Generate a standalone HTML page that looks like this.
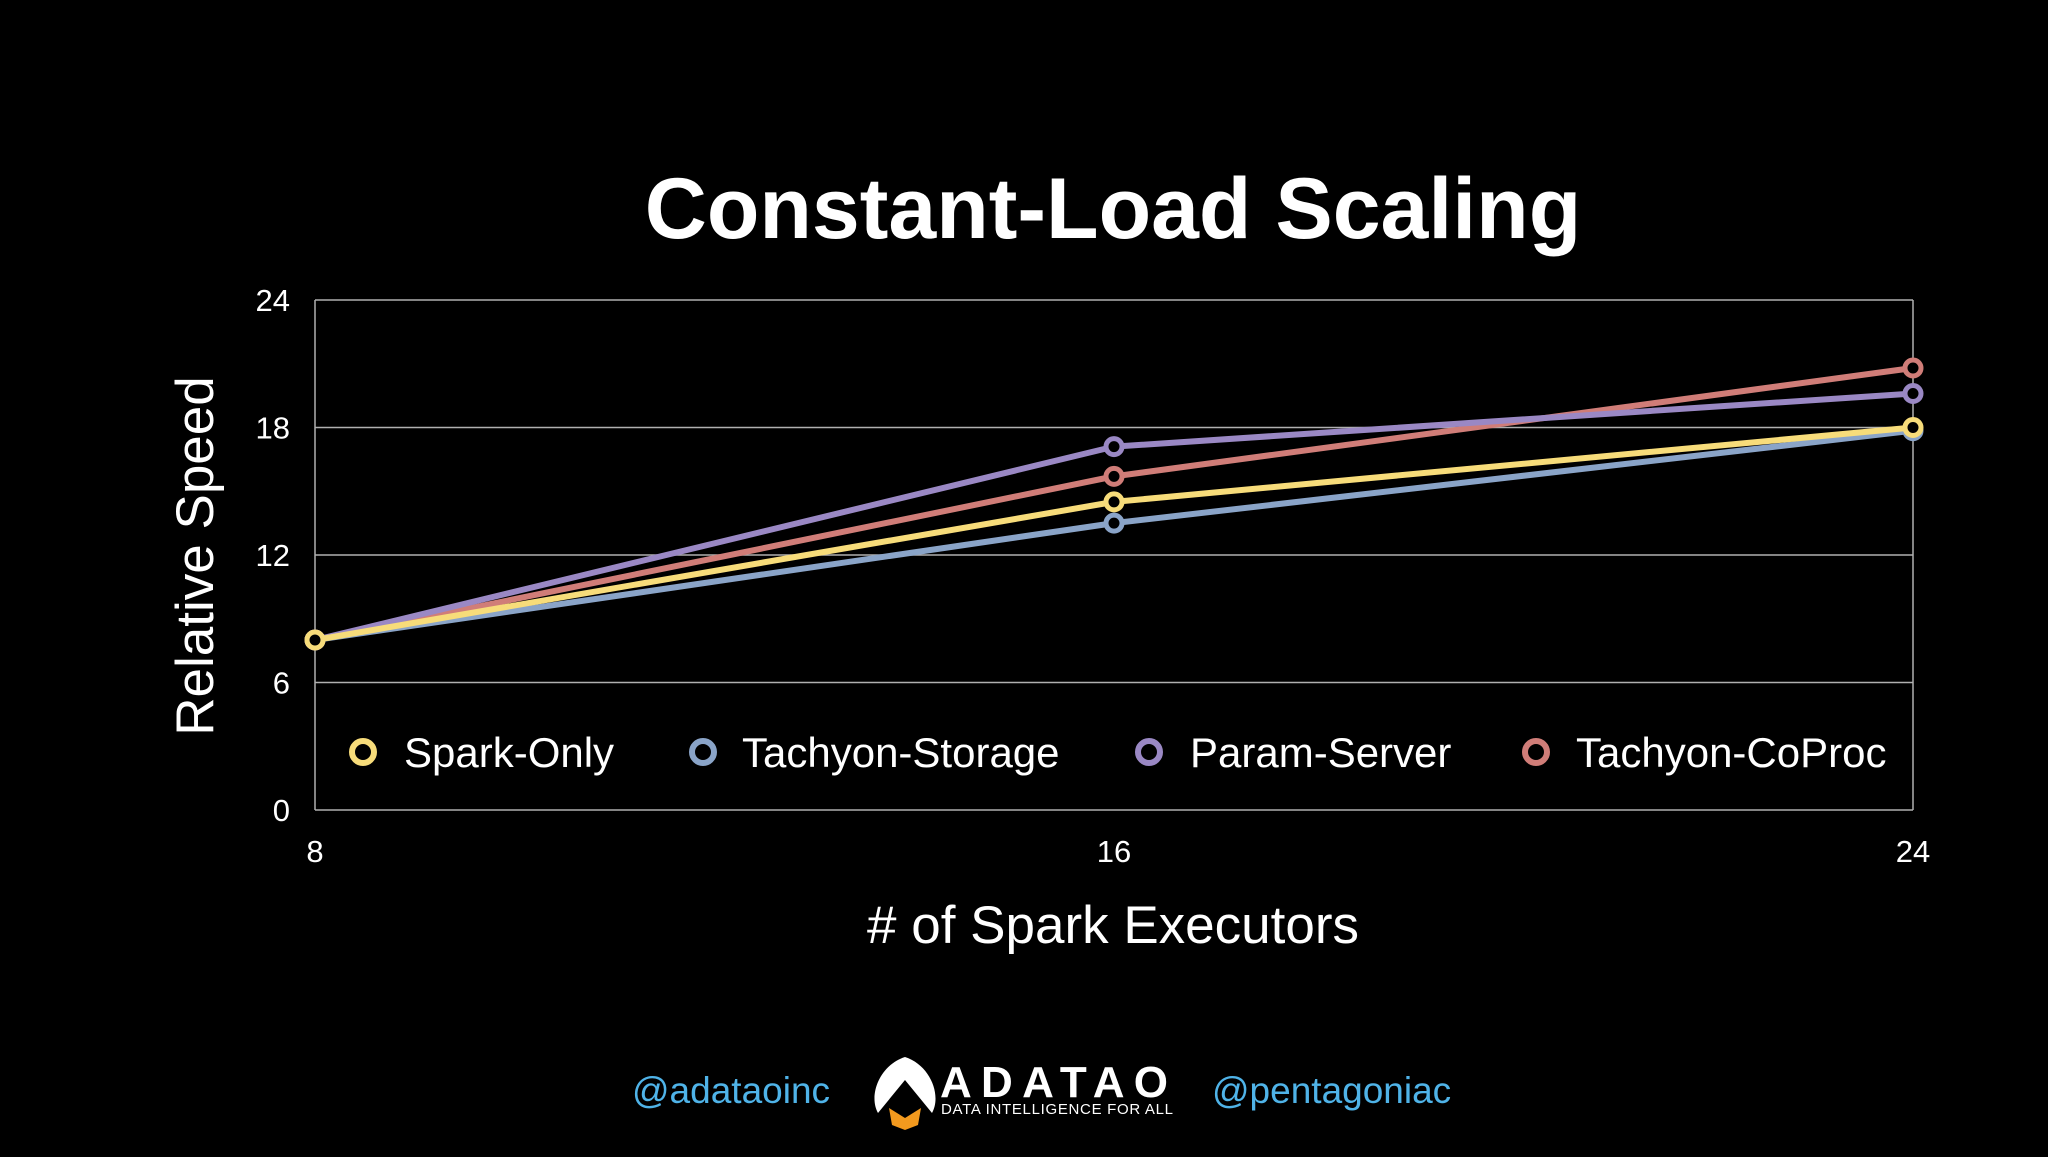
<!DOCTYPE html>
<html><head><meta charset="utf-8"><style>
body{margin:0;background:#000;width:2048px;height:1152px;overflow:hidden}
svg text{font-family:"Liberation Sans",sans-serif}
</style></head><body>
<svg id="c" width="2048" height="1152" xmlns="http://www.w3.org/2000/svg">
<text x="1113" y="238" font-size="86" font-weight="bold" fill="#fff" text-anchor="middle">Constant-Load Scaling</text>
<g id="grid"></g>
<g id="lines"></g>
<text transform="translate(213,556) rotate(-90)" font-size="53" fill="#fff" text-anchor="middle">Relative Speed</text>
<text x="1113" y="943" font-size="53" fill="#fff" text-anchor="middle"># of Spark Executors</text>
<g>
<g><circle cx="363" cy="752" r="11" fill="#000" stroke="#f7dc7a" stroke-width="6"/><text x="404" y="767" font-size="42" fill="#fff">Spark-Only</text></g>
<g><circle cx="703" cy="752" r="11" fill="#000" stroke="#8aa4c8" stroke-width="6"/><text x="742" y="767" font-size="42" fill="#fff">Tachyon-Storage</text></g>
<g><circle cx="1149" cy="752" r="11" fill="#000" stroke="#9a88c4" stroke-width="6"/><text x="1190" y="767" font-size="42" fill="#fff">Param-Server</text></g>
<g><circle cx="1536" cy="752" r="11" fill="#000" stroke="#d07d78" stroke-width="6"/><text x="1576" y="767" font-size="42" fill="#fff">Tachyon-CoProc</text></g>
</g>
<g>
<text x="632" y="1103" font-size="37" fill="#4fb3e8">@adataoinc</text>
<text x="1212" y="1103" font-size="37" fill="#4fb3e8">@pentagoniac</text>
<g>
<path d="M905 1057 C880 1065 868 1095 878 1113 L905 1080 L932 1113 C942 1095 930 1065 905 1057Z" fill="#fff"/>
<path d="M889 1108 L905 1118 L921 1108 L918 1125 L905 1130 L892 1125Z" fill="#f39a1e"/>
<text x="940" y="1097" font-size="44" font-weight="bold" fill="#fff" textLength="228">ADATAO</text>
<text x="941" y="1114" font-size="15" fill="#fff" textLength="232">DATA INTELLIGENCE FOR ALL</text>
</g></g>
</svg>
<script>
const xCats=[8,16,24];
const yTicks=[0,6,12,18,24];
const sparkOnly=[8,14.5,18.0];
const tachyonStorage=[8,13.5,17.85];
const paramServer=[8,17.1,19.6];
const tachyonCoProc=[8,15.7,20.8];
const X=v=>315+(v-8)/16*(1913-315);
const Y=v=>810-v/24*510;
const NS="http://www.w3.org/2000/svg";
const grid=document.getElementById('grid'),lines=document.getElementById('lines');
function mk(t,a,p){const e=document.createElementNS(NS,t);for(const k in a)e.setAttribute(k,a[k]);p.appendChild(e);return e;}
yTicks.forEach(v=>{
 const l=mk('line',{x1:315,x2:1913,y1:Y(v),y2:Y(v),stroke:'#b0b0b0','stroke-width':1.5},grid);
 
 
 const t=mk('text',{x:290,y:Y(v)+11,'font-size':31,fill:'#fff','text-anchor':'end'},grid);t.textContent=v;
 
 
});
[315,1913].forEach(x=>{mk('line',{x1:x,x2:x,y1:Y(24),y2:Y(0),stroke:'#b0b0b0','stroke-width':1.5},grid);});
xCats.forEach(v=>{
 const t=mk('text',{x:X(v),y:862,'font-size':31,fill:'#fff','text-anchor':'middle'},grid);t.textContent=v;
 
 
});
const series=[['tachyon-storage',tachyonStorage,'#8aa4c8'],['tachyon-coproc',tachyonCoProc,'#d07d78'],['param-server',paramServer,'#9a88c4'],['spark-only',sparkOnly,'#f7dc7a']];
series.forEach(([n,d,c])=>{
 const g=mk('g',{},lines);
 
 
 const p=mk('polyline',{points:d.map((v,i)=>X(xCats[i])+','+Y(v)).join(' '),fill:'none',stroke:c,'stroke-width':6,'stroke-linejoin':'round'},g);
 
 
 d.forEach((v,i)=>{
  const m=mk('circle',{cx:X(xCats[i]),cy:Y(v),r:8,fill:'#000',stroke:c,'stroke-width':5},g);
  
  
 });
});
</script>
</body></html>
